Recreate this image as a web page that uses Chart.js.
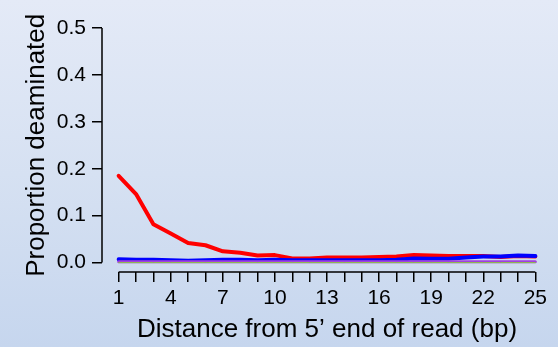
<!DOCTYPE html>
<html>
<head>
<meta charset="utf-8">
<script src="https://cdn.jsdelivr.net/npm/chart.js@4"></script>
<style>
  html, body { margin: 0; padding: 0; }
  body {
    width: 558px; height: 347px; overflow: hidden;
    background: linear-gradient(to bottom, #e4eaf7 0%, #d6e1f2 50%, #c6d6ee 100%);
  }
  #wrap { width: 558px; height: 347px; position: relative; }
</style>
</head>
<body>
<div id="wrap"><canvas id="deam"></canvas></div>
<script>
// distance from 5' end (bp)
const positions = [1,2,3,4,5,6,7,8,9,10,11,12,13,14,15,16,17,18,19,20,21,22,23,24,25];
const xTickLabels = [1, 4, 7, 10, 13, 16, 19, 22, 25];
const yTickValues = [0, 0.1, 0.2, 0.3, 0.4, 0.5];

// proportion deaminated
const redSeries = [0.185, 0.146, 0.082, 0.062, 0.042, 0.037, 0.024, 0.021, 0.015, 0.016,
                   0.009, 0.009, 0.011, 0.011, 0.011, 0.012, 0.013, 0.016, 0.015, 0.014,
                   0.014, 0.014, 0.012, 0.014, 0.013];
const blueSeries = [0.007, 0.006, 0.006, 0.005, 0.004, 0.005, 0.006, 0.006, 0.005, 0.006,
                    0.005, 0.005, 0.005, 0.005, 0.005, 0.005, 0.006, 0.009, 0.008, 0.008,
                    0.011, 0.013, 0.013, 0.015, 0.014];
const purpleSeries = [0.002, 0.002, 0.002, 0.002, 0.002, 0.002, 0.002, 0.002, 0.002, 0.002,
                      0.002, 0.002, 0.002, 0.002, 0.002, 0.002, 0.002, 0.002, 0.002, 0.002,
                      0.002, 0.002, 0.002, 0.002, 0.002];
const greenSeries = [0.0, 0.0, 0.0, 0.0, 0.0, 0.0, 0.0, 0.0, 0.0, 0.0,
                     0.0, 0.0, 0.0, 0.0, 0.0, 0.0, 0.0, 0.0, 0.0, 0.0,
                     0.0, 0.0, 0.0, 0.0, 0.0];

function toPoints(values)
{
    return values.map((v, i) => ({x: positions[i], y: v}));
}

//R style axes: lines only span the tick range
const axisLines = {
    id: 'axisLines',
    afterDraw(chart)
    {
        const ctx = chart.ctx;
        const xs = chart.scales.x;
        const ys = chart.scales.y;
        const area = chart.chartArea;
        ctx.save();
        ctx.strokeStyle = '#000';
        ctx.lineWidth = 1.5;
        ctx.beginPath();
        ctx.moveTo(area.left, ys.getPixelForValue(0));
        ctx.lineTo(area.left, ys.getPixelForValue(0.5));
        ctx.moveTo(xs.getPixelForValue(1), area.bottom);
        ctx.lineTo(xs.getPixelForValue(25), area.bottom);
        ctx.stroke();
        ctx.restore();
    }
};

Chart.defaults.font.family = '"Liberation Sans", Arial, Helvetica, sans-serif';
Chart.defaults.color = '#000';

const tickFont = {size: 21};
const titleFont = {size: 26};

new Chart(document.getElementById('deam'),
    {
        type: 'line',
        data:
            {
                datasets:
                    [
                        {data: toPoints(greenSeries), borderColor: '#8cc63f', borderWidth: 1},
                        {data: toPoints(purpleSeries), borderColor: '#a040e0', borderWidth: 3},
                        {data: toPoints(blueSeries), borderColor: '#0000ff', borderWidth: 4},
                        {data: toPoints(redSeries), borderColor: '#ff0000', borderWidth: 4},
                    ]
            },
        options:
            {
                responsive: true,
                maintainAspectRatio: false,
                animation: false,
                layout: {padding: {left: 0, right: 6, top: 5, bottom: 0}},
                elements:
                    {
                        point: {radius: 0},
                        line: {tension: 0, borderJoinStyle: 'round', borderCapStyle: 'round'}
                    },
                plugins:
                    {
                        legend: {display: false},
                        tooltip: {enabled: false}
                    },
                scales:
                    {
                        x:
                            {
                                type: 'linear',
                                min: 0.04,
                                max: 25.96,
                                afterBuildTicks: scale => { scale.ticks = positions.map(v => ({value: v})); },
                                afterFit: scale => { scale.height = 75; },
                                border: {display: false},
                                grid:
                                    {
                                        drawOnChartArea: false,
                                        drawTicks: true,
                                        tickLength: 10,
                                        color: '#000',
                                        lineWidth: 1.5,
                                    },
                                ticks:
                                    {
                                        autoSkip: false,
                                        maxRotation: 0,
                                        padding: 4,
                                        font: tickFont,
                                        callback: v => xTickLabels.includes(v) ? String(v) : ''
                                    },
                                title:
                                    {
                                        display: true,
                                        text: 'Distance from 5\u2019 end of read (bp)',
                                        font: titleFont,
                                        padding: {top: 0, bottom: 2}
                                    }
                            },
                        y:
                            {
                                min: -0.02,
                                max: 0.52,
                                afterBuildTicks: scale => { scale.ticks = yTickValues.map(v => ({value: v})); },
                                afterFit: scale => { scale.width = 102; },
                                border: {display: false},
                                grid:
                                    {
                                        drawOnChartArea: false,
                                        drawTicks: true,
                                        tickLength: 10,
                                        color: '#000',
                                        lineWidth: 1.5,
                                    },
                                ticks:
                                    {
                                        padding: 6,
                                        font: tickFont,
                                        callback: v => v.toFixed(1)
                                    },
                                title:
                                    {
                                        display: true,
                                        text: 'Proportion deaminated',
                                        font: titleFont,
                                        padding: {top: 21, bottom: 0}
                                    }
                            }
                    }
            },
        plugins: [axisLines]
    });
</script>
</body>
</html>
